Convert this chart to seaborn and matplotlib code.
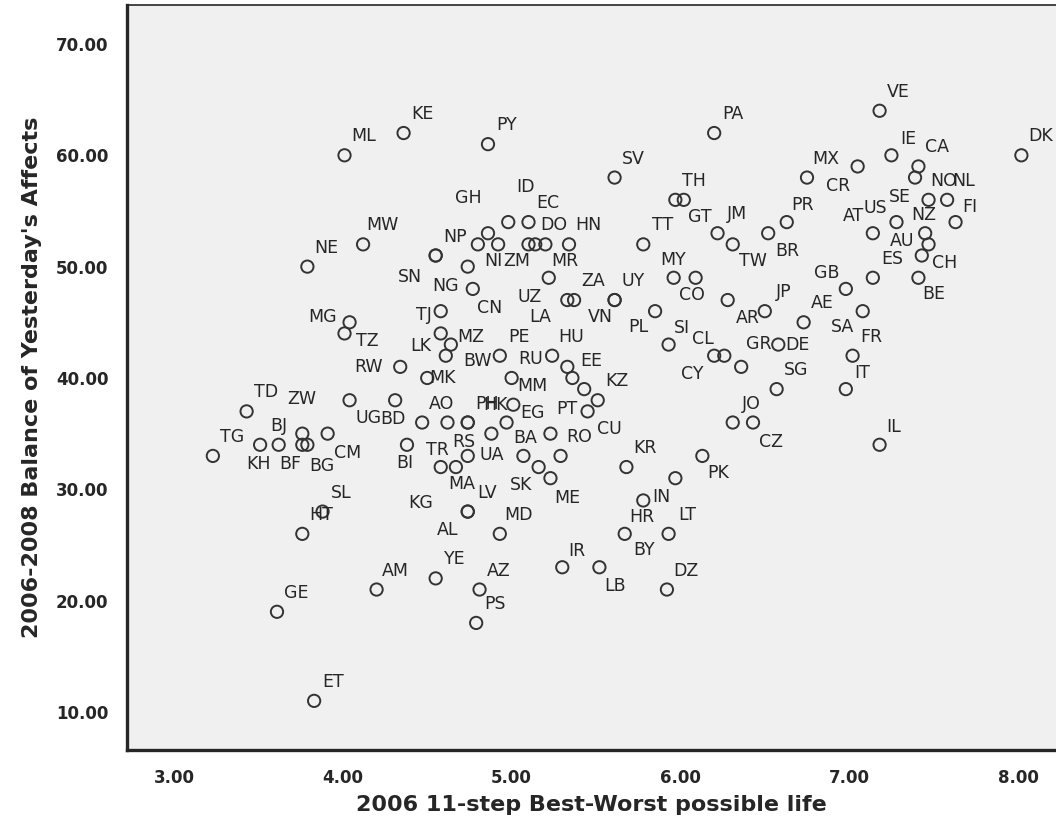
"""Balance of yesterday's affects vs. best-worst possible life, per country."""

import matplotlib

matplotlib.use("Agg")

import matplotlib.pyplot as plt
import seaborn as sns


# country codes, 2006 ladder score, 2006-2008 affect balance
codes = [
    "VE", "KE", "PY", "PA", "ML", "DK", "IE", "SV", "CA", "MX",
    "CR", "SE", "NO", "NL", "US", "AT", "NZ", "FI", "AU", "CH",
    "ES", "BE", "TH", "GT", "TT", "JM", "TW", "BR", "PR", "MY",
    "CO", "GB", "AE", "SA", "JP", "AR", "PL", "SI", "CL", "CY",
    "GR", "DE", "SG", "FR", "IT", "IL", "JO", "CZ", "PK", "KR",
    "IN", "HR", "BY", "LT", "IR", "LB", "DZ", "YE", "AZ", "PS",
    "AM", "GE", "ET", "HT", "SL", "TG", "TD", "BJ", "KH", "BF",
    "BG", "ZW", "CM", "UG", "BD", "BI", "RW", "MG", "TZ", "MW",
    "NE", "NP", "GH", "ID", "EC", "NI", "ZM", "DO", "", "MR",
    "HN", "NG", "CN", "UZ", "ZA", "LA", "UY", "TJ", "LK", "MZ",
    "BW", "PE", "HU", "RU", "", "EE", "", "KZ", "MK", "MM",
    "AO", "PH", "EG", "TR", "RS", "UA", "BA", "PT", "RO", "CU",
    "SK", "ME", "MA", "KG", "LV", "MD", "SN", "VN", "AL", "HK",
]
life = [
    7.18, 4.36, 4.86, 6.20, 4.01, 8.02, 7.25, 5.61, 7.41, 6.75,
    7.05, 7.39, 7.47, 7.58, 7.28, 7.14, 7.45, 7.63, 7.47, 7.43,
    7.14, 7.41, 5.97, 6.02, 5.78, 6.22, 6.31, 6.52, 6.63, 5.96,
    6.09, 6.98, 6.73, 7.08, 6.50, 6.28, 5.85, 5.93, 6.26, 6.20,
    6.36, 6.58, 6.57, 7.02, 6.98, 7.18, 6.31, 6.43, 6.13, 5.68,
    5.97, 5.78, 5.67, 5.93, 5.30, 5.52, 5.92, 4.55, 4.81, 4.79,
    4.20, 3.61, 3.83, 3.76, 3.88, 3.23, 3.43, 3.51, 3.62, 3.76,
    3.79, 3.76, 3.91, 4.04, 4.31, 4.38, 4.34, 4.04, 4.01, 4.12,
    3.79, 4.55, 4.86, 4.98, 5.10, 4.80, 4.92, 5.14, 5.10, 5.20,
    5.34, 4.74, 4.77, 5.22, 5.37, 5.33, 5.61, 4.58, 4.58, 4.64,
    4.61, 4.93, 5.24, 5.00, 5.36, 5.33, 5.43, 5.51, 4.50, 5.01,
    4.47, 4.74, 4.97, 4.62, 4.74, 4.88, 5.07, 5.23, 5.29, 5.45,
    5.16, 5.23, 4.67, 4.58, 4.74, 4.93, 4.55, 5.61, 4.74, 4.74,
]
affect = [
    64, 62, 61, 62, 60, 60, 60, 58, 59, 58,
    59, 58, 56, 56, 54, 53, 53, 54, 52, 51,
    49, 49, 56, 56, 52, 53, 52, 53, 54, 49,
    49, 48, 45, 46, 46, 47, 46, 43, 42, 42,
    41, 43, 39, 42, 39, 34, 36, 36, 33, 32,
    31, 29, 26, 26, 23, 23, 21, 22, 21, 18,
    21, 19, 11, 26, 28, 33, 37, 34, 34, 34,
    34, 35, 35, 38, 38, 34, 41, 45, 44, 52,
    50, 51, 53, 54, 54, 52, 52, 52, 52, 52,
    52, 50, 48, 49, 47, 47, 47, 46, 44, 43,
    42, 42, 42, 40, 40, 41, 39, 38, 40, 37.6,
    36, 36, 36, 36, 33, 35, 33, 35, 33, 37,
    32, 31, 32, 32, 28, 26, 51, 47, 28, 36,
]

# label placement relative to its circle, in pixels (right, down);
# anything not listed sits up and to the right like SPSS does by default
DEFAULT_OFFSET = (19, -19)
LABEL_OFFSETS = {
    "IE": (17, -16), "CR": (-20, 20), "SE": (-15, 19), "NO": (15, -19),
    "NL": (17, -19), "US": (-21, -14), "AT": (-19, -17), "NZ": (-1, -18),
    "FI": (14, -15), "AU": (-26, -3), "CH": (23, 7), "BE": (15, 16),
    "GT": (16, 17), "TW": (20, 17), "BR": (19, 18), "PR": (16, -17),
    "MY": (-1, -18), "CO": (-4, 17), "GB": (-19, -16), "SA": (-20, 16),
    "AR": (20, 18), "PL": (-17, 16), "SI": (13, -17), "CL": (-21, -17),
    "CY": (-22, 18), "GR": (18, -23), "DE": (19, 0), "IT": (16, -16),
    "IL": (14, -18), "CZ": (18, 19), "PK": (16, 17), "IN": (-14, 19),
    "HR": (-1, 17), "BY": (19, 16), "IR": (15, -16), "LB": (16, 19),
    "KH": (-20, 19), "BF": (-12, 19), "BG": (14, 21), "ZW": (-1, -35),
    "CM": (20, 19), "UG": (19, 18), "BD": (-2, 19), "BI": (-2, 18),
    "RW": (-32, 0), "MG": (-27, -5), "TZ": (23, 8), "GH": (-20, -35),
    "ID": (17, -35), "NI": (16, 17), "ZM": (19, 17), "MR": (19, 17),
    "NG": (-22, 19), "CN": (17, 19), "UZ": (-19, 19), "LA": (-27, 17),
    "TJ": (-17, 4), "LK": (-20, 13), "MZ": (20, -8), "BW": (32, 5),
    "EE": (24, -6), "MK": (15, 0), "EG": (26, -10), "TR": (-10, 27),
    "RS": (-4, -14), "UA": (0, 21), "BA": (2, -18), "PT": (16, -25),
    "CU": (22, 18), "SK": (-18, 18), "ME": (17, 20), "MA": (6, 17),
    "KG": (-20, 36), "SN": (-26, 21), "VN": (-14, 17), "AL": (-20, 18),
    "HK": (28, -18),
}

x_ticks = [3, 4, 5, 6, 7, 8]
y_ticks = [10, 20, 30, 40, 50, 60, 70]

INK = "#262626"


def main() -> None:
    sns.set_style("white")
    plt.rcParams["font.family"] = ["DejaVu Sans"]

    fig = plt.figure(figsize=(10.56, 8.32), dpi=100)
    ax = fig.add_axes([0.1203, 0.0986, 0.8797, 0.8954])
    ax.set_facecolor("#f0f0f0")

    sns.scatterplot(
        x=life,
        y=affect,
        ax=ax,
        marker="o",
        s=78,
        facecolor="none",
        edgecolor="#333333",
        linewidth=1.4,
        zorder=3,
    )

    for code, xv, yv in zip(codes, life, affect):
        if not code:
            continue
        dx, dy = LABEL_OFFSETS.get(code, DEFAULT_OFFSET)
        ax.annotate(
            code,
            (xv, yv),
            xytext=(dx, -dy),
            textcoords="offset pixels",
            ha="center",
            va="center",
            fontsize=12.5,
            color=INK,
            zorder=4,
        )

    ax.set_xlim(2.7216, 8.2251)
    ax.set_ylim(6.59, 73.5)
    ax.set_xticks(x_ticks)
    ax.set_yticks(y_ticks)
    ax.set_xticklabels([f"{v:.2f}" for v in x_ticks])
    ax.set_yticklabels([f"{v:.2f}" for v in y_ticks])
    ax.tick_params(
        axis="both", direction="out", length=8.5, width=1.6, color=INK,
        labelsize=12, labelcolor=INK, pad=5,
    )
    for lab in ax.get_xticklabels() + ax.get_yticklabels():
        lab.set_fontweight("bold")

    ax.spines["right"].set_visible(False)
    ax.spines["top"].set_linewidth(1.2)
    ax.spines["left"].set_linewidth(2.4)
    ax.spines["bottom"].set_linewidth(2.4)
    for side in ("top", "left", "bottom"):
        ax.spines[side].set_color(INK)

    ax.set_xlabel("2006 11-step Best-Worst possible life", fontsize=16,
                  fontweight="bold", color=INK, labelpad=6)
    ax.set_ylabel("2006-2008 Balance of Yesterday's Affects", fontsize=16,
                  fontweight="bold", color=INK, labelpad=10)

    fig.savefig("out.png", dpi=100, facecolor="white")
    plt.close(fig)


if __name__ == "__main__":
    main()
